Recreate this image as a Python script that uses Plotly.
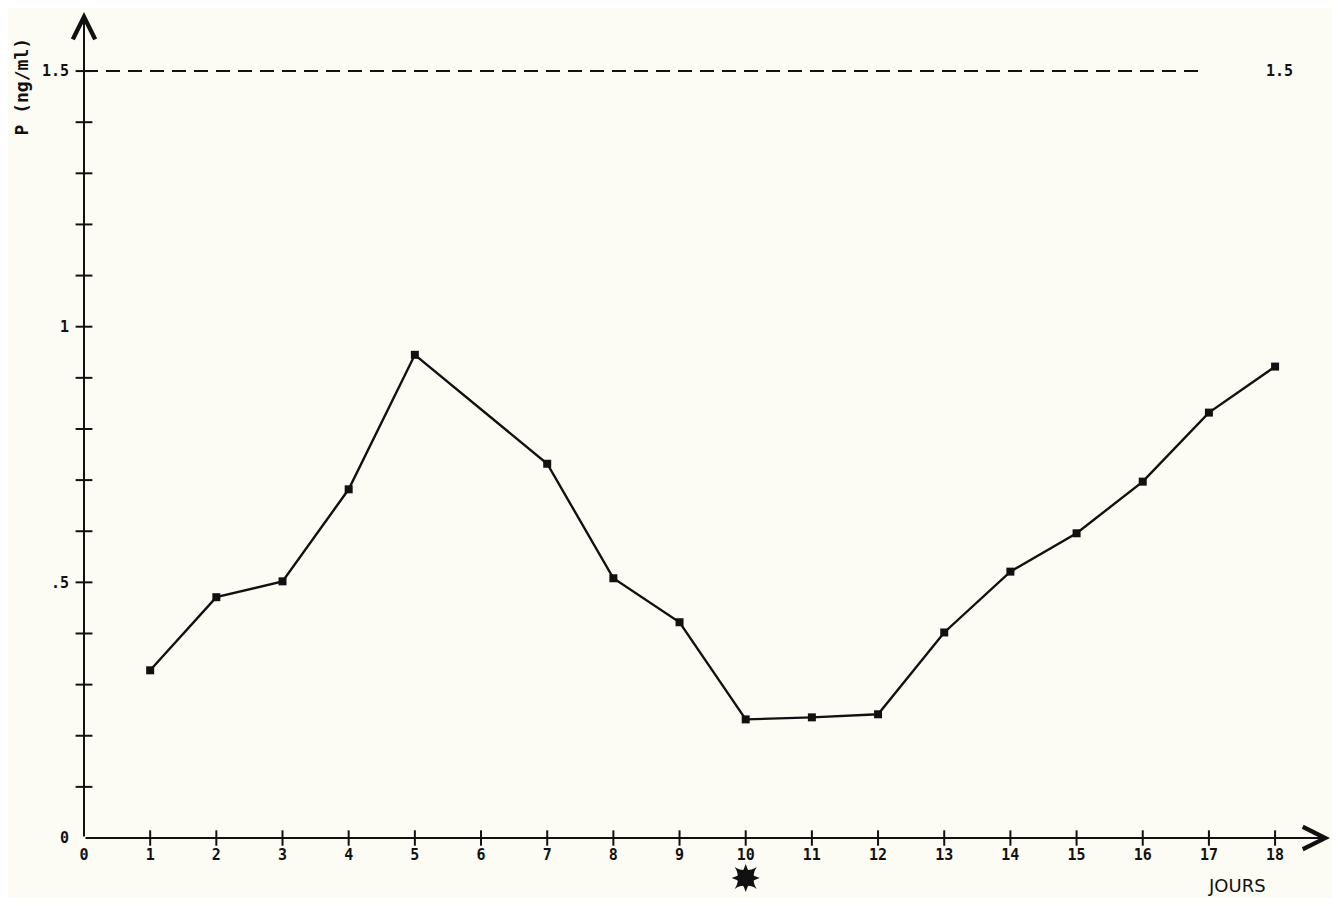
import plotly.graph_objects as go

days = [1, 2, 3, 4, 5, 7, 8, 9, 10, 11, 12, 13, 14, 15, 16, 17, 18]
progesterone = [0.328, 0.471, 0.502, 0.682, 0.945, 0.732, 0.508, 0.422,
                0.232, 0.236, 0.242, 0.402, 0.521, 0.596, 0.697, 0.832, 0.922]
threshold = 1.5
x_ticks = list(range(0, 19))
x_tick_text = [str(v) for v in x_ticks]
y_minor_ticks = [round(0.1 * i, 1) for i in range(1, 16)]
y_label_vals = [0, 0.5, 1, 1.5]
y_label_text = ["0", ".5", "1", "1.5"]
star_day = 10

bg = "#fcfbf4"
ink = "#111111"
mono = "DejaVu Sans Mono"

XMAX = 18.83
YMIN = -0.1134
YMAX = 1.6155

fig = go.Figure()

# threshold dashed line
fig.add_trace(go.Scatter(x=[0, 16.95], y=[threshold, threshold], mode="lines",
                         line=dict(color=ink, width=2, dash="14px,8px"),
                         hoverinfo="skip", showlegend=False))

# data line
fig.add_trace(go.Scatter(x=days, y=progesterone, mode="lines+markers",
                         line=dict(color=ink, width=2.4),
                         marker=dict(symbol="square", size=8, color=ink),
                         showlegend=False))

# tick marks crossing the axes
fig.add_trace(go.Scatter(x=x_ticks[1:], y=[0] * (len(x_ticks) - 1), mode="markers",
                         marker=dict(symbol="line-ns-open", size=11, color=ink,
                                     line=dict(color=ink, width=2)),
                         cliponaxis=False, hoverinfo="skip", showlegend=False))
fig.add_trace(go.Scatter(x=[0] * len(y_minor_ticks), y=y_minor_ticks, mode="markers",
                         marker=dict(symbol="line-ew-open", size=12, color=ink,
                                     line=dict(color=ink, width=2)),
                         cliponaxis=False, hoverinfo="skip", showlegend=False))

# x tick labels
fig.add_trace(go.Scatter(x=x_ticks, y=[-0.036] * len(x_ticks), mode="text",
                         text=x_tick_text, textposition="middle center",
                         textfont=dict(family=mono, size=15, color=ink, weight="bold"),
                         cliponaxis=False, hoverinfo="skip", showlegend=False))

# star marker under day 10
for sym in ["star-square", "star-diamond"]:
    fig.add_trace(go.Scatter(x=[star_day], y=[-0.078], mode="markers",
                             marker=dict(symbol=sym, size=20, color=ink),
                             cliponaxis=False, hoverinfo="skip", showlegend=False))

# axes with arrows
fig.add_annotation(x=XMAX, y=0, ax=0, ay=0, xref="x", yref="y", axref="x", ayref="y",
                   showarrow=True, arrowhead=5, arrowsize=2.2, arrowwidth=2,
                   arrowcolor=ink, text="")
fig.add_annotation(x=0, y=YMAX, ax=0, ay=0, xref="x", yref="y", axref="x", ayref="y",
                   showarrow=True, arrowhead=5, arrowsize=2.2, arrowwidth=2,
                   arrowcolor=ink, text="")

# labels
fig.add_annotation(x=18.07, y=threshold, xref="x", yref="y", text="1.5",
                   showarrow=False, font=dict(family=mono, size=15, color=ink, weight="bold"))
fig.add_annotation(x=17.42, y=-0.093, xref="x", yref="y", text="JOURS",
                   showarrow=False, font=dict(family="DejaVu Sans", size=18, color=ink))
fig.add_annotation(x=-0.0505, y=1.47, xref="paper", yref="y", xanchor="center",
                   text="P (ng/ml)", textangle=-90, showarrow=False,
                   font=dict(family=mono, size=18, color=ink, weight="bold"))

fig.update_layout(
    width=1324, height=890,
    margin=dict(l=76, r=2, t=4, b=2),
    paper_bgcolor=bg, plot_bgcolor=bg,
    xaxis=dict(range=[0, XMAX], showgrid=False, zeroline=False, showline=False,
               showticklabels=False, ticks=""),
    yaxis=dict(range=[YMIN, YMAX], showgrid=False, zeroline=False, showline=False,
               tickvals=y_label_vals, ticktext=y_label_text, ticks="",
               ticklabelstandoff=14,
               tickfont=dict(family=mono, size=15, color=ink, weight="bold")),
)

fig.write_html("out.html")
